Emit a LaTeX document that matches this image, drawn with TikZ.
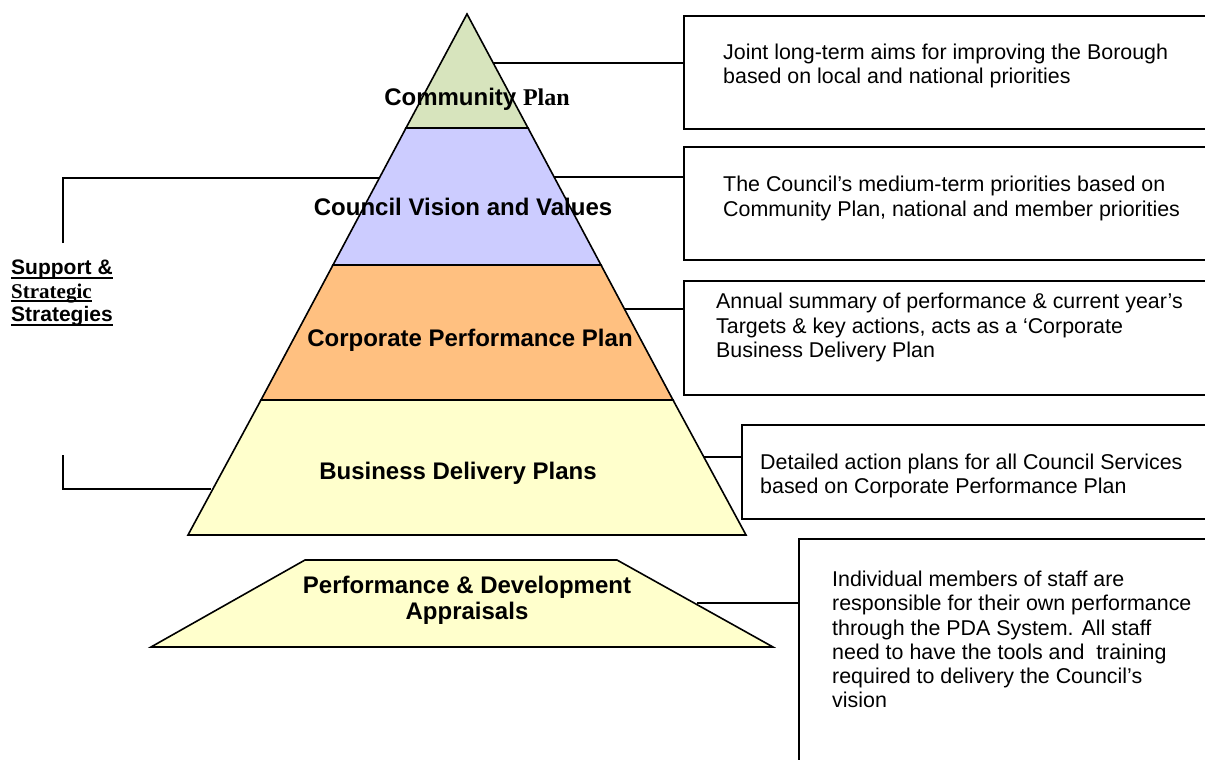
\documentclass[tikz,border=0pt]{standalone}
\usepackage{fontspec}
\setmainfont{Liberation Sans}
\newfontfamily\timesfont{Liberation Serif}
\usetikzlibrary{positioning}
\definecolor{plangreen}{RGB}{215,228,189}
\definecolor{visionblue}{RGB}{204,204,255}
\definecolor{corporange}{RGB}{255,192,128}
\definecolor{deliveryyellow}{RGB}{255,255,204}
\newcommand{\heavyul}[1]{\setbox0\hbox{#1}\rlap{\rule[-4pt]{\wd0}{2.2pt}}\box0}

\begin{document}
\begin{tikzpicture}[
    x=1pt, y=-1pt,
    layer/.style={draw=black, line width=1.6pt, line join=miter},
    box/.style={rectangle, draw, line width=1.6pt, anchor=north west, inner sep=0pt},
    layertext/.style={font=\bfseries\fontsize{24}{26}\selectfont, align=center, inner sep=0pt},
    note/.style={font=\fontsize{21.4}{24.2}\selectfont, align=left, anchor=west, inner sep=0pt},
    sidetext/.style={font=\bfseries\fontsize{21}{23.5}\selectfont, align=left, anchor=north west, inner sep=0pt},
    link/.style={line width=1.6pt}
]
    \clip (0,0) rectangle (1205,760);

    % Pyramid corners
    \coordinate (apex) at (467,14);
    \coordinate (cpL) at (406,128);  \coordinate (cpR) at (528,128);
    \coordinate (cvL) at (333,265);  \coordinate (cvR) at (601,265);
    \coordinate (cppL) at (261,400); \coordinate (cppR) at (673,400);
    \coordinate (bdL) at (188,535);  \coordinate (bdR) at (746,535);

    % Pyramid layers
    \draw[layer, fill=plangreen] (apex) -- (cpR) -- (cpL) -- cycle;
    \draw[layer, fill=visionblue] (cpL) -- (cpR) -- (cvR) -- (cvL) -- cycle;
    \draw[layer, fill=corporange] (cvL) -- (cvR) -- (cppR) -- (cppL) -- cycle;
    \draw[layer, fill=deliveryyellow] (cppL) -- (cppR) -- (bdR) -- (bdL) -- cycle;

    % Appraisals layer
    \draw[layer, fill=deliveryyellow] (305,560) -- (617,560) -- (773,647) -- (151,647) -- cycle;

    % Layer labels
    \node[layertext] (community) at (477,99) {Community {\timesfont Plan}};
    \node[layertext] (vision) at (463,207) {Council Vision and Values};
    \node[layertext] (corporate) at (470,340) {Corporate Performance Plan};
    \node[layertext] (business) at (458,473) {Business Delivery Plans};
    \node[layertext] (appraisal) at (467,600) {Performance \& Development\\Appraisals};

    % Boxes
    \node[box, minimum width=560pt, minimum height=113pt] (jointbox) at (683,15) {};
    \node[box, minimum width=560pt, minimum height=113pt] (mediumbox) at (683,146) {};
    \node[box, minimum width=560pt, minimum height=114pt] (annualbox) at (683,280) {};
    \node[box, minimum width=500pt, minimum height=94pt] (detailbox) at (741,424) {};
    \node[box, minimum width=450pt, minimum height=260pt] (staffbox) at (798,538) {};

    % Box texts
    \node[note] (jointtext) at (723,66) {Joint long-term aims for improving the Borough\\based on local and national priorities};
    \node[note] (mediumtext) at (723,198.5) {The Council’s medium-term priorities based on\\Community Plan, national and member priorities};
    \node[note] (annualtext) at (716,327.5) {Annual summary of performance \& current year’s\\Targets \& key actions, acts as a ‘Corporate\\Business Delivery Plan};
    \node[note] (detailtext) at (760,476) {Detailed action plans for all Council Services\\based on Corporate Performance Plan};
    \node[note] (stafftext) at (832,639.5) {Individual members of staff are\\responsible for their own performance\\through the PDA System. All staff\\need to have the tools and\ \ training\\required to delivery the Council’s\\vision};

    % Support label
    \node[sidetext] (support) at (11,260) {\heavyul{Support \&}\\{\timesfont\heavyul{Strategic}}\\\heavyul{Strategies}};

    % Connectors
    \coordinate (e1) at (493,63);
    \coordinate (e2) at (554,177);
    \coordinate (e3) at (625,309);
    \coordinate (e4) at (704,457);
    \coordinate (e5) at (697,603);
    \draw[link] (e1) -- (jointbox.west |- e1);
    \draw[link] (e2) -- (mediumbox.west |- e2);
    \draw[link] (e3) -- (annualbox.west |- e3);
    \draw[link] (e4) -- (detailbox.west |- e4);
    \draw[link] (e5) -- (staffbox.west |- e5);

    % Bracket
    \coordinate (topfoot) at (63,243);
    \coordinate (topedge) at (379,178);
    \coordinate (botfoot) at (63,455);
    \coordinate (botedge) at (211,489);
    \draw[link] (topfoot) |- (topedge);
    \draw[link] (botfoot) |- (botedge);
\end{tikzpicture}
\end{document}
